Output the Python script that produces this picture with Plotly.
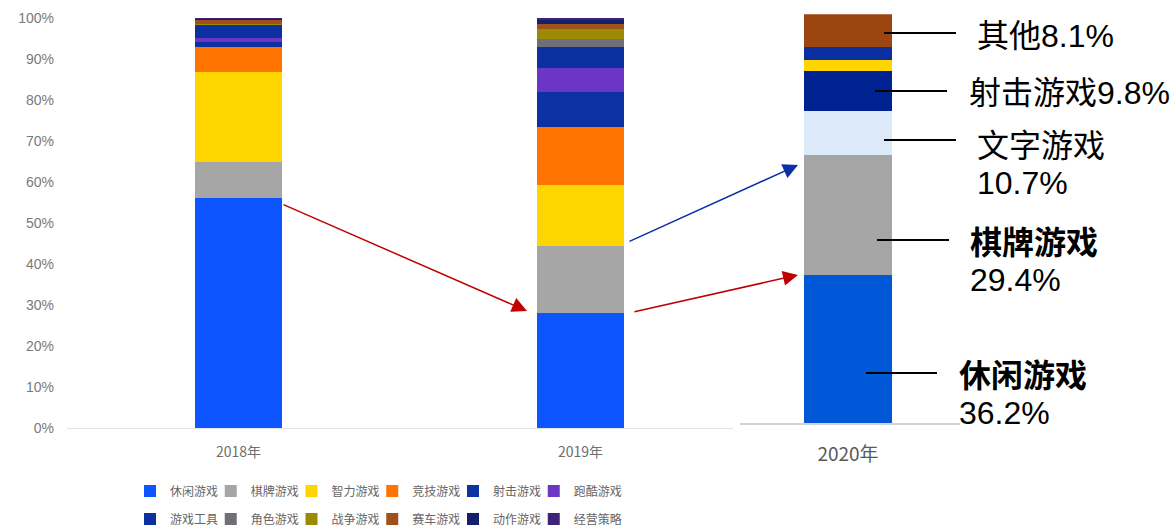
import plotly.graph_objects as go

# ---- data -------------------------------------------------------------
years_left = ["2018年", "2019年"]
genres = ["休闲游戏", "棋牌游戏", "智力游戏", "竞技游戏", "射击游戏", "跑酷游戏",
          "游戏工具", "角色游戏", "战争游戏", "赛车游戏", "动作游戏", "经营策略"]
share_2018 = [56.0, 8.9, 22.0, 6.1, 1.2, 0.9, 3.2, 0.2, 0.1, 1.1, 0.2, 0.1]
share_2019 = [28.0, 16.3, 15.0, 14.2, 8.5, 5.9, 5.0, 2.0, 2.3, 1.4, 0.8, 0.6]
pct_ticks = list(range(0, 101, 10))
pct_labels = [f"{t}%" for t in pct_ticks]

year_right = ["2020年"]
genres_2020 = ["休闲游戏", "棋牌游戏", "文字游戏", "射击游戏", "智力游戏", "游戏工具", "其他"]
share_2020 = [36.2, 29.4, 10.7, 9.8, 2.7, 3.1, 8.1]

# ---- styling ----------------------------------------------------------
W, H = 1173, 528
colors_left = ["#0d55ff", "#a6a6a6", "#ffd500", "#ff7300", "#0b31a5", "#6b35c5",
               "#0d30a0", "#6f6f78", "#9c8a04", "#a0501a", "#14206b", "#3d2479"]
colors_2020 = ["#0058d8", "#a5a5a5", "#dce9f9", "#002190", "#ffd500", "#0a2fa0", "#9b4510"]

CJK = "Noto Sans CJK SC, Microsoft YaHei, sans-serif"
MIX = "Liberation Sans, Noto Sans CJK SC, sans-serif"


def px(x):
    return x / W


def py(y):
    return 1 - y / H


def legend_id(i):
    return "legend" if i == 0 else f"legend{i + 1}"


fig = go.Figure()

# 2018 / 2019 stacked shares (one legend box per entry, laid out as a 6x2 grid)
for i, (g, c) in enumerate(zip(genres, colors_left)):
    fig.add_trace(go.Bar(
        x=years_left, y=[share_2018[i], share_2019[i]], name=g,
        marker=dict(color=c, line=dict(width=0)), width=0.254,
        xaxis="x", yaxis="y", legend=legend_id(i),
    ))

# 2020 stacked shares
for g, c, v in zip(genres_2020, colors_2020, share_2020):
    fig.add_trace(go.Bar(
        x=year_right, y=[v], name=g, showlegend=False,
        marker=dict(color=c, line=dict(width=0)), width=0.4,
        xaxis="x2", yaxis="y2",
    ))

layout_annotations = []
shapes = []

# callouts for the 2020 bar (label position, leader line, bold flag, split)
callouts = {
    "其他":   dict(tx=975, ty=36, line=(884, 956, 33), bold=False, split=False),
    "射击游戏": dict(tx=967, ty=93, line=(875, 947, 91), bold=False, split=False),
    "文字游戏": dict(tx=975, ty=146, line=(884, 956, 140), bold=False, split=True),
    "棋牌游戏": dict(tx=968, ty=243, line=(877, 949, 240), bold=True, split=True),
    "休闲游戏": dict(tx=957, ty=376, line=(866, 937, 373), bold=True, split=True),
}
for g, v in zip(genres_2020, share_2020):
    if g not in callouts:
        continue
    c = callouts[g]
    name = f"<b>{g}</b>" if c["bold"] else g
    value = f"{v:.1f}%"
    lines = [name, value] if c["split"] else [name + value]
    for k, t in enumerate(lines):
        layout_annotations.append(dict(
            text=t, xref="paper", yref="paper",
            x=px(c["tx"]), y=py(c["ty"] + 37 * k),
            xanchor="left", yanchor="middle", showarrow=False,
            font=dict(family=MIX, size=32, color="#000000"),
        ))
    x0, x1, yl = c["line"]
    shapes.append(dict(type="line", xref="paper", yref="paper",
                       x0=px(x0), x1=px(x1), y0=py(yl), y1=py(yl),
                       line=dict(color="#000000", width=2)))

# trend arrows between the bars (tail -> tip, in pixels)
arrows = [
    ((282, 204), (527, 311), "#c00000"),
    ((633, 312), (798, 275), "#c00000"),
    ((628, 242), (798, 165), "#0a2fa6"),
]
for (sx, sy), (ex, ey), col in arrows:
    layout_annotations.append(dict(
        x=px(ex), y=py(ey), ax=sx - ex, ay=sy - ey,
        xref="paper", yref="paper", axref="pixel", ayref="pixel",
        text="", showarrow=True, arrowhead=2, arrowsize=2,
        arrowwidth=1.5, arrowcolor=col, standoff=0,
    ))

legend_common = dict(
    orientation="h", xanchor="left", yanchor="middle",
    font=dict(family=CJK, size=12, color="#666666"),
    bgcolor="rgba(0,0,0,0)", itemclick=False, itemdoubleclick=False,
    itemwidth=30,
)
LEG_X0, LEG_STEP = 130, 80.75
LEG_ROWS_Y = [491, 519]
legend_layout = {}
for i in range(len(genres)):
    row, col = divmod(i, 6)
    legend_layout[legend_id(i)] = dict(
        x=px(LEG_X0 + col * LEG_STEP), y=py(LEG_ROWS_Y[row]), **legend_common)

fig.update_layout(
    width=W, height=H,
    margin=dict(l=0, r=0, t=0, b=0, autoexpand=False),
    paper_bgcolor="#ffffff", plot_bgcolor="#ffffff",
    barmode="stack", bargap=0,
    font=dict(family=CJK),
    xaxis=dict(domain=[px(67), px(733)], range=[-0.5015, 1.446],
               showline=True, linecolor="#e3e3e3", linewidth=1,
               ticks="", showgrid=False, zeroline=False,
               tickfont=dict(family=CJK, size=14, color="#6e6e6e"),
               ticklabelstandoff=11, anchor="y"),
    yaxis=dict(domain=[py(428), py(18)], range=[0, 100],
               tickvals=pct_ticks, ticktext=pct_labels,
               showgrid=False, zeroline=False, showline=False, ticks="",
               tickfont=dict(family=MIX, size=14, color="#7a7a7a"),
               ticklabelstandoff=12, anchor="x"),
    xaxis2=dict(domain=[px(740), px(960)], range=[-0.491, 0.509],
                showline=True, linecolor="#d4d4d4", linewidth=2,
                ticks="", showgrid=False, zeroline=False,
                tickfont=dict(family=CJK, size=19, color="#595959"),
                ticklabelstandoff=13, anchor="y2"),
    yaxis2=dict(domain=[py(423), py(14.3)], range=[0, 100],
                visible=False, anchor="x2"),
    annotations=layout_annotations,
    shapes=shapes,
    **legend_layout,
)

fig.write_html("out.html")
